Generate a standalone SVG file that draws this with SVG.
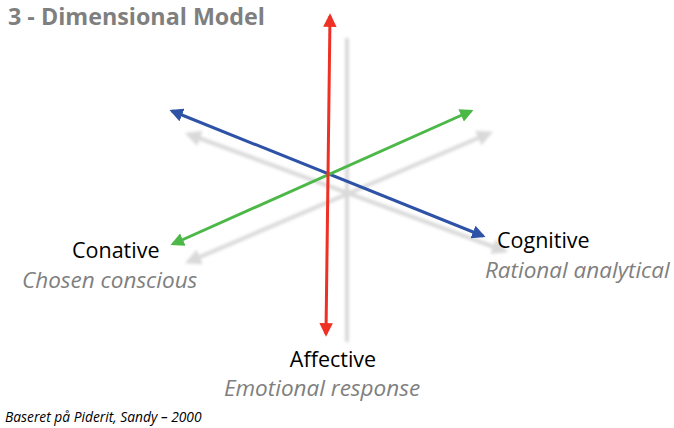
<svg xmlns="http://www.w3.org/2000/svg" width="674" height="428" viewBox="0 0 674 428">
<style>
.lbl{font-family:"Open Sans","Liberation Sans",sans-serif;font-size:21.5px;fill:#000}
.sub{font-family:"Open Sans","Liberation Sans",sans-serif;font-size:22.5px;font-style:italic;fill:#7f7f7f}
.title{font-family:"Open Sans","Liberation Sans",sans-serif;font-size:23.3px;font-weight:bold;fill:#7f7f7f}
.src{font-family:"Open Sans","Liberation Sans",sans-serif;font-size:13.8px;font-style:italic;fill:#000}
.sh{stroke:#d9d9d9;stroke-width:4;fill:none}
</style>
<defs>
<filter id="blur" x="-20%" y="-20%" width="140%" height="140%"><feGaussianBlur stdDeviation="1.5"/></filter>
<marker id="aR" viewBox="0 0 10 10" refX="8" refY="5" markerWidth="4.5" markerHeight="4.5" orient="auto-start-reverse" markerUnits="strokeWidth"><path d="M0,0 L10,5 L0,10 Z" fill="#ee3124"/></marker>
<marker id="aB" viewBox="0 0 10 10" refX="8" refY="5" markerWidth="4.5" markerHeight="4.5" orient="auto-start-reverse" markerUnits="strokeWidth"><path d="M0,0 L10,5 L0,10 Z" fill="#2e53a6"/></marker>
<marker id="aG" viewBox="0 0 10 10" refX="8" refY="5" markerWidth="4.5" markerHeight="4.5" orient="auto-start-reverse" markerUnits="strokeWidth"><path d="M0,0 L10,5 L0,10 Z" fill="#4cb848"/></marker>
<marker id="aS" viewBox="0 0 10 10" refX="8" refY="5" markerWidth="4" markerHeight="4" orient="auto-start-reverse" markerUnits="strokeWidth"><path d="M0,0 L10,5 L0,10 Z" fill="#d9d9d9"/></marker>
</defs>
<rect width="674" height="428" fill="#fff"/>
<text class="title" x="8" y="25">3 - Dimensional Model</text>
<g id="shadow" filter="url(#blur)">
<line class="sh" x1="347" y1="38" x2="347" y2="342"/>
<line class="sh" x1="188" y1="134" x2="505" y2="251" marker-start="url(#aS)" marker-end="url(#aS)"/>
<line class="sh" x1="188" y1="262" x2="490" y2="133" marker-start="url(#aS)" marker-end="url(#aS)"/>
</g>
<g id="connectors">
<line x1="172" y1="111" x2="483" y2="236" stroke="#2e53a6" stroke-width="3" marker-start="url(#aB)" marker-end="url(#aB)"/>
<line x1="173" y1="244" x2="471" y2="111" stroke="#4cb848" stroke-width="3" marker-start="url(#aG)" marker-end="url(#aG)"/>
<line x1="330" y1="16" x2="326" y2="334" stroke="#ee3124" stroke-width="3" marker-start="url(#aR)" marker-end="url(#aR)"/>
</g>
<g id="conative">
<text class="lbl" x="72" y="258">Conative</text>
<text class="sub" x="22" y="288">Chosen conscious</text>
</g>
<g id="cognitive">
<text class="lbl" x="497" y="248">Cognitive</text>
<text class="sub" x="485" y="278">Rational analytical</text>
</g>
<g id="affective">
<text class="lbl" x="333" y="367" text-anchor="middle">Affective</text>
<text class="sub" x="322" y="396" text-anchor="middle">Emotional response</text>
</g>
<text class="src" x="5" y="422">Baseret på Piderit, Sandy – 2000</text>
</svg>
